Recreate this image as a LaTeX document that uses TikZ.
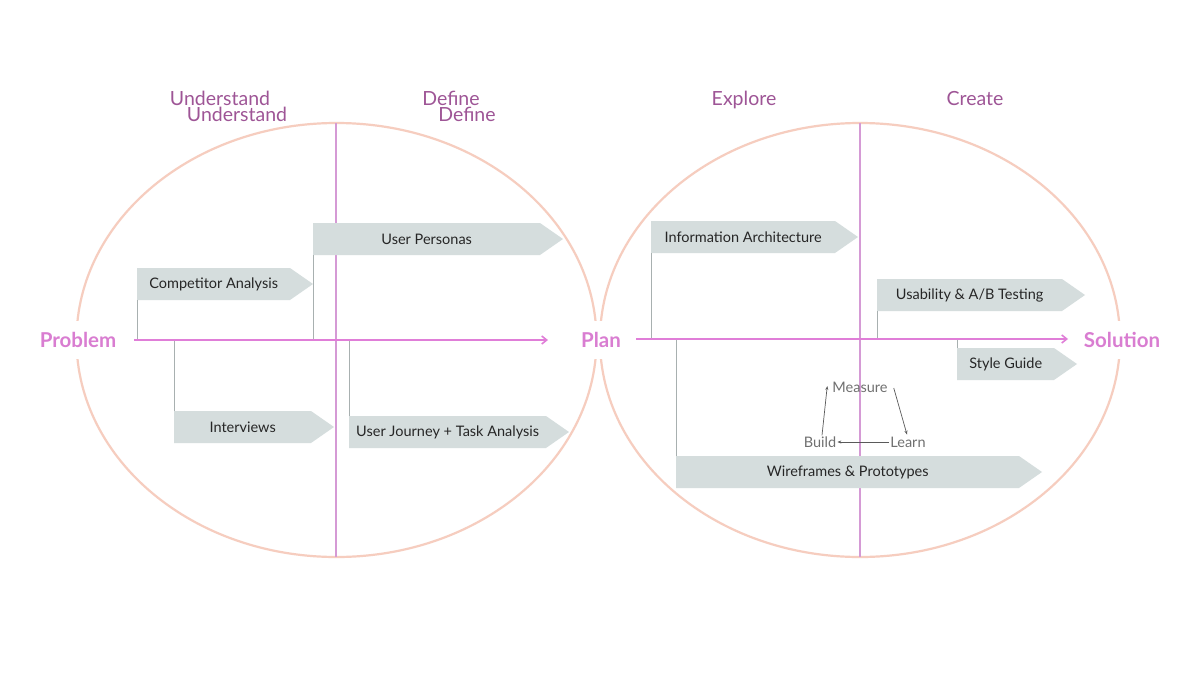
\documentclass[tikz,border=0pt]{standalone}
\usepackage{fontspec}
\setmainfont{Lato}
\usetikzlibrary{arrows.meta,calc}
\definecolor{peach}{HTML}{F6CDBF}
\definecolor{axispink}{HTML}{E07ED8}
\definecolor{labpink}{HTML}{D97DD1}
\definecolor{phase}{HTML}{9E5596}
\definecolor{divider}{HTML}{D59AD5}
\definecolor{boxfill}{HTML}{D5DDDD}
\definecolor{stem}{HTML}{A8B0B0}
\definecolor{loopgray}{HTML}{707070}
\tikzset{
  ring/.style={draw=peach, line width=2.2pt},
  divline/.style={draw=divider, line width=1.1pt},
  axisline/.style={draw=axispink, line width=1.6pt, -{Straight Barb[length=5pt,width=8pt]}},
  endlabel/.style={font=\fontsize{20.5}{22}\selectfont\bfseries, text=labpink, fill=white, inner xsep=1pt, inner ysep=11pt},
  phaselabel/.style={font=\fontsize{19.5}{20}\selectfont, text=phase, inner sep=0pt, anchor=base},
  flagfill/.style={fill=boxfill},
  bodybox/.style={minimum height=32pt, inner sep=0pt, anchor=west, font=\fontsize{14.5}{15}\selectfont, text=black!85},
  stemline/.style={draw=stem, line width=0.9pt},
  loopword/.style={font=\fontsize{14.5}{15}\selectfont, text=loopgray, inner sep=1pt},
  looparrow/.style={draw=loopgray!80!black, line width=0.7pt, -{Stealth[length=4pt,width=3pt]}}
}
% name, x, y, body width, text
\newcommand{\flagbox}[5]{%
  \fill[flagfill] (#2,#3-16) -- (#2+#4,#3-16) -- (#2+#4+23,#3) -- (#2+#4,#3+16) -- (#2,#3+16) -- cycle;
  \node[bodybox, minimum width=#4pt] (#1) at (#2,#3) {#5};}
\begin{document}
\begin{tikzpicture}[x=1pt,y=-1pt]
\useasboundingbox[fill=white] (0,0) rectangle (1200,675);

% ellipses
\draw[ring] (336.5,340) ellipse [x radius=260, y radius=217];
\draw[ring] (860,340) ellipse [x radius=260, y radius=217];

% dividers
\draw[divline] (336,123) -- (336,557);
\draw[divline] (860,123) -- (860,557);

% end labels
\node[endlabel] (problem) at (78,340) {Problem};
\node[endlabel] (plan) at (601,340) {Plan};
\node[endlabel] (solution) at (1122,340) {Solution};

% phase labels
\node[phaselabel] (und1) at (220,105) {Understand};
\node[phaselabel] (und2) at (237,121) {Understand};
\node[phaselabel] (def1) at (451,105) {Define};
\node[phaselabel] (def2) at (467,121) {Define};
\node[phaselabel] (explore) at (744,105) {Explore};
\node[phaselabel] (create) at (975,105) {Create};

% axes
\coordinate (axL) at (134,340);
\coordinate (axLend) at (548,340);
\coordinate (axR) at (636,339);
\coordinate (axRend) at (1068,339);

% boxes
\flagbox{ca}{137}{284}{153}{Competitor Analysis}
\flagbox{up}{313}{239}{227}{User Personas}
\flagbox{iv}{174}{427}{137}{Interviews}
\flagbox{uj}{349}{432}{197}{User Journey + Task Analysis}
\flagbox{ia}{651}{237}{184}{Information Architecture}
\flagbox{ut}{877}{295}{185}{Usability \& A/B Testing}
\flagbox{sg}{957}{364}{97}{Style Guide}
\flagbox{wp}{676}{472}{343}{Wireframes \& Prototypes}

% stems
\draw[stemline] (ca.south west) -- (ca.south west |- axL);
\draw[stemline] (up.south west) -- (up.south west |- axL);
\draw[stemline] (iv.north west) -- (iv.north west |- axL);
\draw[stemline] (uj.north west) -- (uj.north west |- axL);
\draw[stemline] (ia.south west) -- (ia.south west |- axR);
\draw[stemline] (ut.south west) -- (ut.south west |- axR);
\draw[stemline] (sg.north west) -- (sg.north west |- axR);
\draw[stemline] (wp.north west) -- (wp.north west |- axR);

\draw[axisline] (axL) -- (axLend);
\draw[axisline] (axR) -- (axRend);

% build-measure-learn loop
\node[loopword] (measure) at (860,387) {Measure};
\node[loopword] (build) at (820,442) {Build};
\node[loopword] (learn) at (908,442) {Learn};
\draw[looparrow] ([xshift=2pt]build.north) -- ([xshift=-4pt,yshift=1pt]measure.west);
\draw[looparrow] ([xshift=5pt,yshift=-1pt]measure.east) -- ([xshift=-1pt,yshift=1pt]learn.north);
\draw[looparrow] (learn.west) -- (build.east);
\end{tikzpicture}
\end{document}
